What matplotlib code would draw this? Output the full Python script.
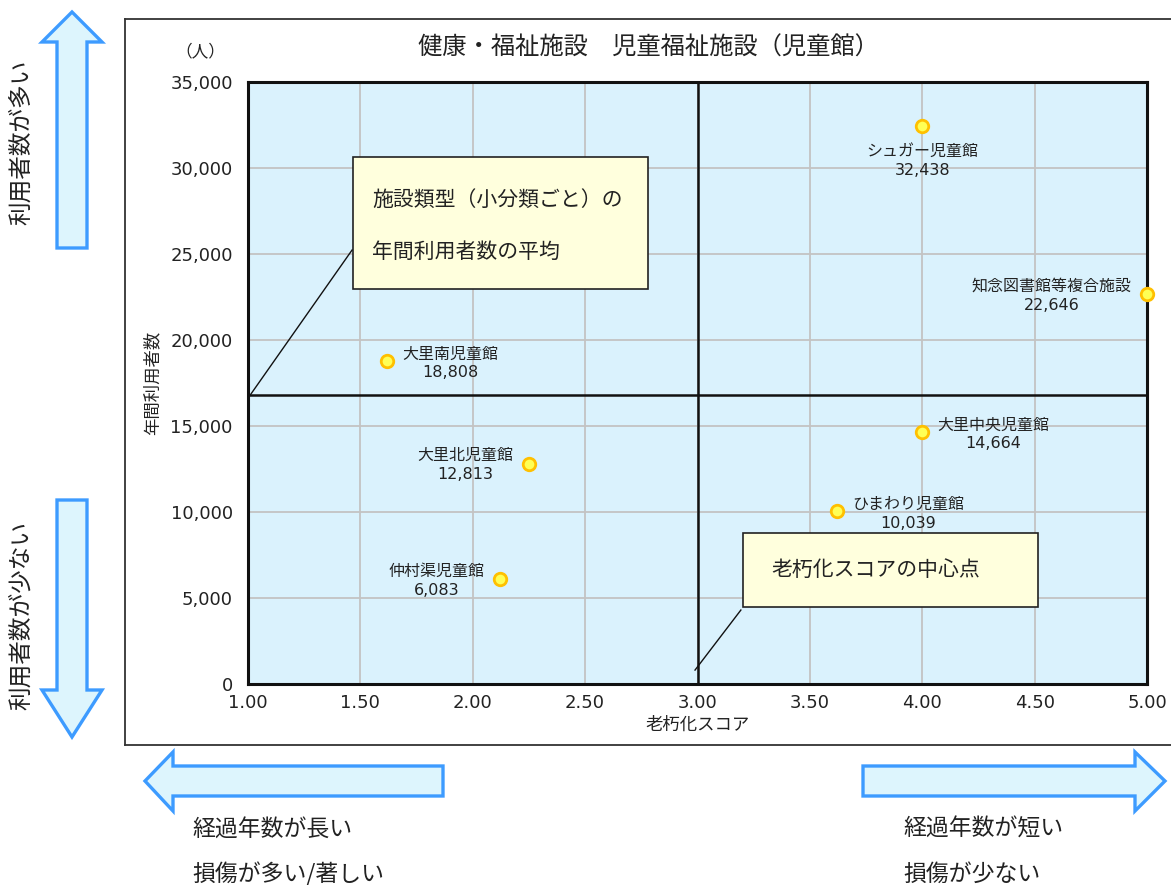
import numpy as np
import matplotlib
matplotlib.use("Agg")
import matplotlib.pyplot as plt
import matplotlib.ticker as ticker
from matplotlib.patches import Polygon, Rectangle
from matplotlib.lines import Line2D

plt.rcParams['font.family'] = ['Noto Sans CJK JP', 'DejaVu Sans']
NUM_FONT = ['DejaVu Sans', 'Noto Sans CJK JP']

## Data
names = ['シュガー児童館', '知念図書館等複合施設', '大里南児童館', '大里北児童館',
         '仲村渠児童館', '大里中央児童館', 'ひまわり児童館']
scores = [4.00, 5.00, 1.62, 2.25, 2.12, 4.00, 3.62]
users = [32438, 22646, 18808, 12813, 6083, 14664, 10039]

x_ticks = [1.0, 1.5, 2.0, 2.5, 3.0, 3.5, 4.0, 4.5, 5.0]
y_ticks = [0, 5000, 10000, 15000, 20000, 25000, 30000, 35000]

title = '健康・福祉施設　児童福祉施設（児童館）'

# label placement per point (style only)
label_side = ['below', 'left', 'right', 'left', 'left', 'right', 'right']

W, H = 1171, 885
fig = plt.figure(figsize=(W / 100, H / 100), dpi=100)


def fx(px):
    return px / W


def fy(py):
    return 1 - py / H


ax = fig.add_axes([fx(248), fy(684), fx(1147) - fx(248), fy(82) - fy(684)])
ax.set_facecolor('#DAF2FD')
ax.set_xlim(x_ticks[0], x_ticks[-1])
ax.set_ylim(y_ticks[0], y_ticks[-1])
ax.set_xticks(x_ticks)
ax.set_yticks(y_ticks)
ax.xaxis.set_major_formatter(ticker.FuncFormatter(lambda v, p: '%.2f' % v))
ax.yaxis.set_major_formatter(ticker.FuncFormatter(lambda v, p: '{:,}'.format(int(v))))
ax.tick_params(length=0, labelsize=13, labelcolor='#222222')
ax.tick_params(axis='y', pad=11)
ax.tick_params(axis='x', pad=7)
for lbl in ax.get_xticklabels() + ax.get_yticklabels():
    lbl.set_family(NUM_FONT)
ax.grid(True, color='#C3C3C3', linewidth=1.3)
ax.set_axisbelow(True)
for sp in ax.spines.values():
    sp.set_linewidth(2.2)
    sp.set_color('#111111')

ax.set_xlabel('老朽化スコア', fontsize=12.5, color='#222222', labelpad=3)
ax.set_ylabel('年間利用者数', fontsize=12.5, color='#222222', labelpad=6)

# quadrant lines: average users and score centre
avg_users = np.mean(users)
score_center = (x_ticks[0] + x_ticks[-1]) / 2
ax.axhline(avg_users, color='#111111', linewidth=1.8, zorder=2)
ax.axvline(score_center, color='#111111', linewidth=1.8, zorder=2)

# points
ax.plot(scores, users, 'o', markersize=9, markerfacecolor='#FFFF55',
        markeredgecolor='#FFC000', markeredgewidth=2, zorder=5, clip_on=False)

offsets = {'below': ((0, -25), 'center'),
           'left': ((-11, -1), 'right'),
           'right': ((11, -2), 'left')}
for n, s, u, side in zip(names, scores, users, label_side):
    (dx, dy), ha = offsets[side]
    ax.annotate('%s\n%s' % (n, '{:,}'.format(u)), (s, u), xytext=(dx, dy),
                textcoords='offset points', ha=ha, va='center',
                multialignment='center', fontsize=11.5, color='#222222',
                family=NUM_FONT, linespacing=1.3, zorder=6)

# callout boxes
ax.add_patch(Rectangle((1.467, 22970), 1.313, 7670, facecolor='#FFFFDD',
                       edgecolor='#222222', linewidth=1.2, zorder=7))
ax.text(1.552, 28140, '施設類型（小分類ごと）の', fontsize=15, va='center',
        ha='left', color='#222222', zorder=8)
ax.text(1.552, 25120, '年間利用者数の平均', fontsize=15, va='center',
        ha='left', color='#222222', zorder=8)
ax.plot([1.463, 1.009], [25230, avg_users], color='#111111', linewidth=1, zorder=7)

ax.add_patch(Rectangle((3.202, 4480), 1.313, 4300, facecolor='#FFFFDD',
                       edgecolor='#222222', linewidth=1.2, zorder=7))
ax.text(3.327, 6630, '老朽化スコアの中心点', fontsize=15, va='center',
        ha='left', color='#222222', zorder=8)
ax.plot([3.193, 2.989], [4300, 810], color='#111111', linewidth=1, zorder=7)

# title and unit
fig.text(fx(648), fy(48), title, fontsize=17.5, ha='center', va='center', color='#222222')
fig.text(fx(200), fy(52), '（人）', fontsize=12, ha='center', va='center', color='#222222')

# outer frame of the chart
for xs, ys in [((125, 1175), (19, 19)), ((125, 125), (19, 745)), ((125, 1175), (745, 745))]:
    fig.add_artist(Line2D([fx(x) for x in xs], [fy(y) for y in ys],
                          color='#333333', linewidth=1.3))


def block_arrow(pts):
    fig.add_artist(Polygon([(fx(x), fy(y)) for x, y in pts], closed=True,
                           facecolor='#DDF5FD', edgecolor='#3D9BFF',
                           linewidth=2.4, transform=fig.transFigure))


block_arrow([(72, 12), (102, 42), (87, 42), (87, 248), (57, 248), (57, 42), (42, 42)])
block_arrow([(72, 737), (102, 690), (87, 690), (87, 500), (57, 500), (57, 690), (42, 690)])
block_arrow([(145, 781), (173, 752), (173, 766), (443, 766), (443, 796), (173, 796), (173, 811)])
block_arrow([(1165, 781), (1135, 752), (1135, 766), (863, 766), (863, 796), (1135, 796), (1135, 811)])

fig.text(fx(22), fy(142), '利用者数が多い', fontsize=17, rotation=90,
         ha='center', va='center', color='#222222')
fig.text(fx(22), fy(615), '利用者数が少ない', fontsize=17, rotation=90,
         ha='center', va='center', color='#222222')
fig.text(fx(192), fy(829), '経過年数が長い', fontsize=16.5, ha='left', va='center', color='#222222')
fig.text(fx(192), fy(874), '損傷が多い/著しい', fontsize=16.5, ha='left', va='center', color='#222222')
fig.text(fx(903), fy(829), '経過年数が短い', fontsize=16.5, ha='left', va='center', color='#222222')
fig.text(fx(903), fy(874), '損傷が少ない', fontsize=16.5, ha='left', va='center', color='#222222')

fig.savefig('out.png', dpi=100)
